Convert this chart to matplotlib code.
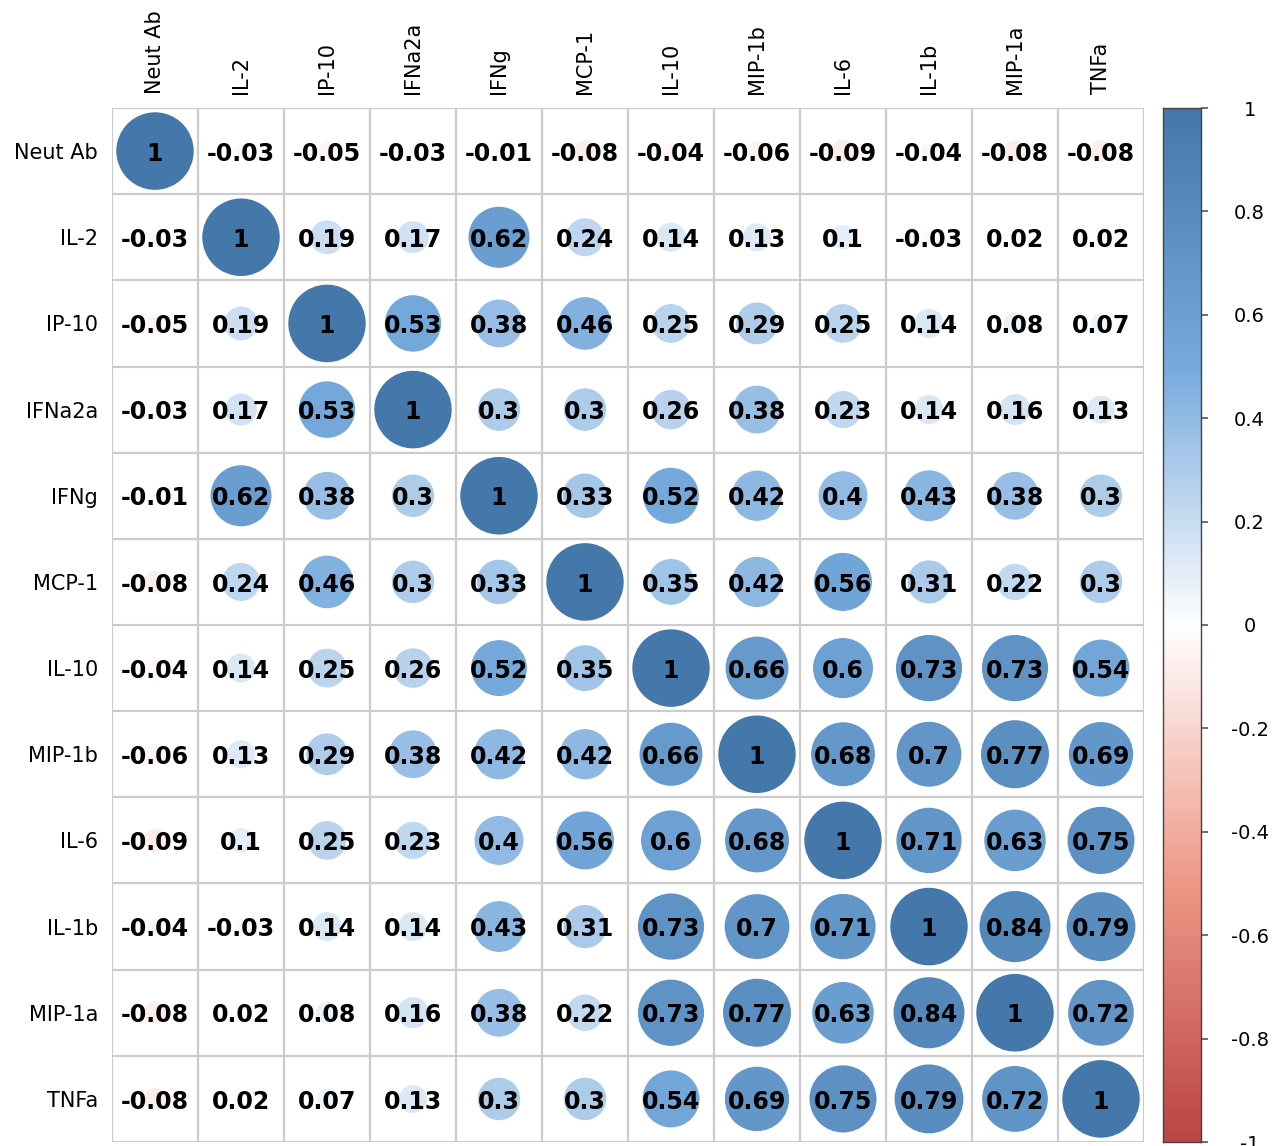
import numpy as np
import matplotlib
matplotlib.use("Agg")
import matplotlib.pyplot as plt
from matplotlib.colors import LinearSegmentedColormap, Normalize
from matplotlib.patches import Circle

# ── Data ─────────────────────────────────────────────────────────────────────
labels = ["Neut Ab", "IL-2", "IP-10", "IFNa2a", "IFNg", "MCP-1",
          "IL-10", "MIP-1b", "IL-6", "IL-1b", "MIP-1a", "TNFa"]

corr_rows = [
    [1, -0.03, -0.05, -0.03, -0.01, -0.08, -0.04, -0.06, -0.09, -0.04, -0.08, -0.08],
    [-0.03, 1, 0.19, 0.17, 0.62, 0.24, 0.14, 0.13, 0.1, -0.03, 0.02, 0.02],
    [-0.05, 0.19, 1, 0.53, 0.38, 0.46, 0.25, 0.29, 0.25, 0.14, 0.08, 0.07],
    [-0.03, 0.17, 0.53, 1, 0.3, 0.3, 0.26, 0.38, 0.23, 0.14, 0.16, 0.13],
    [-0.01, 0.62, 0.38, 0.3, 1, 0.33, 0.52, 0.42, 0.4, 0.43, 0.38, 0.3],
    [-0.08, 0.24, 0.46, 0.3, 0.33, 1, 0.35, 0.42, 0.56, 0.31, 0.22, 0.3],
    [-0.04, 0.14, 0.25, 0.26, 0.52, 0.35, 1, 0.66, 0.6, 0.73, 0.73, 0.54],
    [-0.06, 0.13, 0.29, 0.38, 0.42, 0.42, 0.66, 1, 0.68, 0.7, 0.77, 0.69],
    [-0.09, 0.1, 0.25, 0.23, 0.4, 0.56, 0.6, 0.68, 1, 0.71, 0.63, 0.75],
    [-0.04, -0.03, 0.14, 0.14, 0.43, 0.31, 0.73, 0.7, 0.71, 1, 0.84, 0.79],
    [-0.08, 0.02, 0.08, 0.16, 0.38, 0.22, 0.73, 0.77, 0.63, 0.84, 1, 0.72],
    [-0.08, 0.02, 0.07, 0.13, 0.3, 0.3, 0.54, 0.69, 0.75, 0.79, 0.72, 1],
]

cbar_ticks = [1, 0.8, 0.6, 0.4, 0.2, 0, -0.2, -0.4, -0.6, -0.8, -1]

# ── Style ────────────────────────────────────────────────────────────────────
plt.rcParams["font.family"] = ["DejaVu Sans"]
cmap = LinearSegmentedColormap.from_list(
    "corr", ["#BB4444", "#EE9988", "#FFFFFF", "#77AADD", "#4477AA"])
norm = Normalize(-1, 1)
grid_col = "#cccccc"

corr = np.array(corr_rows, dtype=float)
n = len(labels)

fig = plt.figure(figsize=(12.85, 11.46), dpi=100)
W, H = 1285, 1146
ax = fig.add_axes([112 / W, 1 - 1142 / H, (1144 - 112) / W, (1142 - 108) / H])

# circles + numbers
for i in range(n):
    for j in range(n):
        v = corr[i, j]
        r = 0.45 * np.sqrt(abs(v))
        ax.add_patch(Circle((j + 0.5, i + 0.5), r, facecolor=cmap(norm(v)),
                            edgecolor="none", zorder=1))
        ax.text(j + 0.5, i + 0.53, f"{v:g}", ha="center", va="center",
                fontsize=17, fontweight="bold", color="black", zorder=3)

# grid lines
for k in range(n + 1):
    ax.axhline(k, color=grid_col, lw=1.6, zorder=2)
    ax.axvline(k, color=grid_col, lw=1.6, zorder=2)

ax.set_xlim(0, n)
ax.set_ylim(n, 0)
ax.set_xticks(np.arange(n) + 0.5)
ax.set_yticks(np.arange(n) + 0.5)
ax.set_xticklabels(labels, rotation=90, fontsize=15)
ax.set_yticklabels(labels, fontsize=15)
ax.xaxis.tick_top()
ax.tick_params(length=0, pad=10)
for s in ax.spines.values():
    s.set_visible(False)

# ── Colour legend ────────────────────────────────────────────────────────────
cax = fig.add_axes([1163 / W, 1 - 1142 / H, (1201 - 1163) / W, (1142 - 108) / H])
grad = np.linspace(-1, 1, 256).reshape(-1, 1)
cax.imshow(grad, cmap=cmap, norm=norm, aspect="auto", origin="lower",
           extent=[0, 1, -1, 1])
cax.set_xlim(0, 1)
cax.set_ylim(-1, 1)
cax.set_xticks([])
cax.yaxis.tick_right()
cax.set_yticks(cbar_ticks)
cax.set_yticklabels([f"{t:g}" for t in cbar_ticks], fontsize=14)
cax.tick_params(axis="y", length=5, width=1.2, color="#555555", pad=30)
for t in cax.get_yticklabels():
    t.set_horizontalalignment("center")
for s in cax.spines.values():
    s.set_color("#444444")
    s.set_linewidth(1)

fig.savefig("out.png", dpi=100)
